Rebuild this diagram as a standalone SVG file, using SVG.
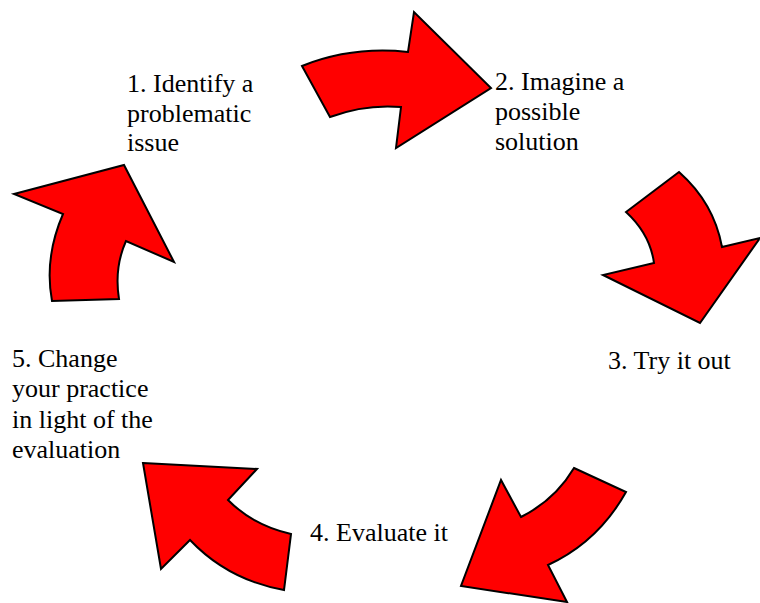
<svg xmlns="http://www.w3.org/2000/svg" width="760" height="603" viewBox="0 0 760 603">
<style>
.arrow{fill:#ff0000;stroke:#000;stroke-width:2;stroke-linejoin:miter}
.lbl{font-family:'Liberation Serif','Times New Roman',Times,serif;font-size:26px;fill:#000}
</style>
<rect width="760" height="603" fill="#fff"/>
<g id="connectors">
<path id="arrow1" class="arrow" d="M302,66 Q352,46 408,52 L414,12 L491,88 L396,148 L401,107 Q365,104 330,117 Z"/>
<path id="arrow2" class="arrow" d="M679,172 Q714,203 722,247 L760,238 L700,323 L603,275 L654,263 Q650,234 626,212 Z"/>
<path id="arrow3" class="arrow" d="M574,468 L626,492 Q598,542 548,565 L567,602 L461,586 L501,480 L521,517 Q555,500 574,468 Z"/>
<path id="arrow4" class="arrow" d="M143,463 L257,469 L228,500 Q254,526 291,534 L284,590 Q228,580 190,540 L161,569 Z"/>
<path id="arrow5" class="arrow" d="M14,194 L124,165 L174,262 L126,241 Q114,268 119,299 L52,301 Q44,258 63,214 Z"/>
</g>
<g id="node1"><text class="lbl" x="127" y="92">1. Identify a</text><text class="lbl" x="127" y="122">problematic</text><text class="lbl" x="127" y="151">issue</text></g>
<g id="node2"><text class="lbl" x="495" y="90">2. Imagine a</text><text class="lbl" x="495" y="120">possible</text><text class="lbl" x="495" y="150">solution</text></g>
<g id="node3"><text class="lbl" x="608" y="369">3. Try it out</text></g>
<g id="node4"><text class="lbl" x="310" y="541">4. Evaluate it</text></g>
<g id="node5"><text class="lbl" x="12" y="367">5. Change</text><text class="lbl" x="12" y="397">your practice</text><text class="lbl" x="12" y="428">in light of the</text><text class="lbl" x="12" y="458">evaluation</text></g>
</svg>
